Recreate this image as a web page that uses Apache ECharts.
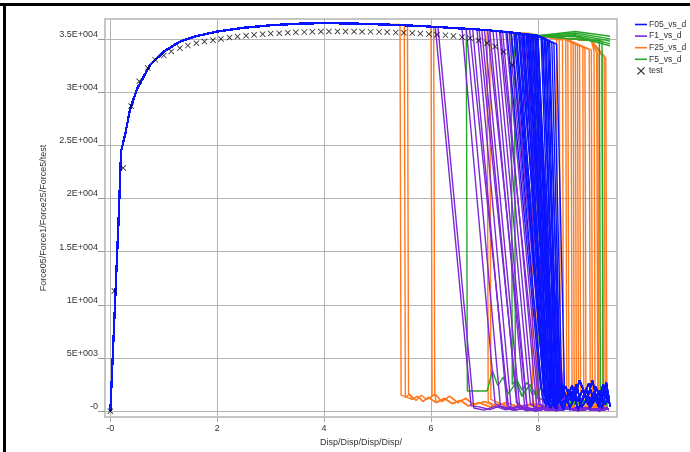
<!DOCTYPE html>
<html><head><meta charset="utf-8">
<script src="https://cdn.jsdelivr.net/npm/echarts@6/dist/echarts.min.js"></script>
<style>html,body{margin:0;padding:0;background:#fff}#c{width:690px;height:452px}</style>
</head><body><div id="c"></div>
<script>
// ---- tick labels ----
const xTicks = [0, 2, 4, 6, 8];
const xTickLabels = ['-0', '2', '4', '6', '8'];
const yTicks = [0, 5000, 10000, 15000, 20000, 25000, 30000, 35000];
const yTickLabels = ['-0', '5E+003', '1E+004', '1.5E+004', '2E+004', '2.5E+004', '3E+004', '3.5E+004'];

// ---- shared loading path (all runs) ----
const baseX = [0, 0.09, 0.155, 0.2, 0.28, 0.37, 0.5, 0.75, 1.0, 1.3, 1.6, 2.0, 2.5, 3.0, 3.5, 4.0, 4.5, 5.0, 5.5, 6.0, 6.5, 7.0, 7.5, 8.0, 8.5, 9.0, 9.35];
const baseY = [0, 10400, 18100, 24400, 26100, 28400, 30300, 32600, 33800, 34750, 35250, 35700, 36050, 36280, 36420, 36480, 36450, 36380, 36280, 36150, 36000, 35850, 35600, 35300, 35050, 34850, 34700];

// ---- F05 (blue) failures ----
const f05FailX = [7.42, 7.5, 7.55, 7.58, 7.6, 7.64, 7.66, 7.7, 7.72, 7.74, 7.78, 7.8, 7.82, 7.84, 7.85, 7.88, 7.9, 7.91, 7.94, 7.95, 7.97, 8.0, 8.02, 8.03, 8.06, 8.08, 8.09, 8.12, 8.14, 8.15, 8.18, 8.2, 8.22, 8.26, 8.3, 8.35];
const f05FailY = [35650, 35600, 35580, 35550, 35540, 35500, 35480, 35450, 35450, 35450, 35400, 35400, 35400, 35380, 35350, 35350, 35320, 35300, 35300, 35280, 35250, 35200, 35180, 35150, 35100, 35080, 35050, 35000, 34980, 34950, 34900, 34850, 34800, 34700, 34600, 34500];
const f05EndX = [8.05, 8.08, 8.12, 8.1, 8.15, 8.12, 8.18, 8.13, 8.2, 8.14, 8.16, 8.22, 8.18, 8.25, 8.2, 8.2, 8.27, 8.22, 8.24, 8.3, 8.25, 8.27, 8.32, 8.28, 8.3, 8.35, 8.32, 8.33, 8.38, 8.35, 8.37, 8.42, 8.4, 8.42, 8.45, 8.5];
const f05EndY = [2200, 1500, 2000, 2600, 800, 900, 2300, 1900, 1300, 2400, 1200, 600, 2800, 1600, 600, 1700, 2500, 2100, 1000, 1900, 2500, 1400, 700, 1800, 700, 2200, 2300, 1100, 1500, 2600, 1500, 800, 900, 2000, 1300, 1700];
const f05Tails = [
  [[8.1,1800],[8.2,600],[8.3,2200],[8.4,900],[8.5,1700],[8.6,300],[8.7,1500],[8.8,700],[8.9,2100],[9.0,500],[9.1,1400],[9.2,300],[9.3,2200]],
  [[8.15,400],[8.25,1500],[8.35,200],[8.45,2600],[8.55,800],[8.65,1900],[8.75,200],[8.85,1200],[8.95,2600],[9.05,900],[9.15,1900],[9.25,600],[9.33,1500]],
  [[8.12,2500],[8.22,1100],[8.32,300],[8.42,1400],[8.52,2300],[8.62,1000],[8.72,2500],[8.82,400],[8.92,1100],[9.02,2900],[9.12,700],[9.22,2500],[9.32,800]],
  [[8.18,900],[8.28,2800],[8.38,1300],[8.48,100],[8.58,2000],[8.68,1200],[8.78,2900],[8.88,1600],[8.98,300],[9.08,2300],[9.18,1100],[9.28,2700],[9.35,400]],
  [[8.14,1300],[8.24,300],[8.34,1900],[8.44,700],[8.54,1200],[8.64,2400],[8.74,900],[8.84,2000],[8.94,600],[9.04,1700],[9.14,400],[9.24,1800],[9.34,1000]]
];

// ---- F1 (purple) failures ----
const f1FailX = [6.08, 6.13, 6.58, 6.66, 6.72, 6.78, 6.86, 6.9, 6.95, 7.02, 7.06, 7.1, 7.16, 7.22, 7.28, 7.3, 7.34, 7.4, 7.46, 7.5, 7.52, 7.58, 7.64, 7.68, 7.72, 7.75, 7.8, 7.85, 7.9];
const f1FailY = [36100, 36100, 35950, 35950, 35920, 35900, 35880, 35870, 35850, 35820, 35810, 35800, 35780, 35750, 35720, 35710, 35700, 35650, 35620, 35600, 35600, 35560, 35500, 35480, 35450, 35430, 35400, 35380, 35350];
const f1EndX = [6.75, 6.8, 7.2, 7.3, 7.45, 7.42, 7.5, 7.62, 7.6, 7.66, 7.8, 7.75, 7.8, 7.86, 7.92, 8.02, 7.98, 8.04, 8.1, 8.2, 8.16, 8.22, 8.28, 8.36, 8.35, 8.42, 8.42, 8.48, 8.5];
const f1EndY = [500, 300, 700, 400, 350, 600, 250, 500, 800, 350, 200, 550, 200, 650, 450, 600, 300, 700, 400, 300, 250, 600, 350, 200, 500, 400, 300, 550, 450];
const f1Tails = [
  [[6.9,400],[7.1,150],[7.3,500],[7.5,200],[7.7,450],[7.9,100],[8.1,350],[8.3,150],[8.5,400],[8.7,100],[8.9,300],[9.1,120],[9.3,350]],
  [[7.0,100],[7.2,450],[7.4,120],[7.6,380],[7.8,50],[8.0,300],[8.2,80],[8.4,420],[8.6,150],[8.8,380],[9.0,90],[9.2,300],[9.33,150]],
  [[6.95,250],[7.15,50],[7.35,300],[7.55,80],[7.75,260],[7.95,40],[8.15,220],[8.35,60],[8.55,250],[8.75,50],[8.95,200],[9.15,60],[9.3,200]]
];

// ---- F25 (orange) failures ----
const f25FailX = [5.42, 5.5, 5.56, 6.0, 6.05, 7.05, 7.1, 7.88, 7.95, 8.35, 8.4, 8.46, 8.52, 8.56, 8.62, 8.66, 8.7, 8.74, 8.78, 8.84, 8.88, 8.96, 9.0, 9.05, 9.1, 9.12, 9.2, 9.24, 9.27];
const f25FailY = [36350, 36300, 36300, 36150, 36150, 35850, 35800, 35500, 35400, 35050, 35000, 34900, 34800, 34750, 34700, 34600, 34500, 34450, 34300, 34250, 34100, 34000, 33950, 33800, 33700, 33600, 33400, 33350, 33200];
const f25EndX = [5.44, 5.52, 5.58, 6.02, 6.07, 7.07, 7.12, 7.9, 7.97, 8.37, 8.42, 8.48, 8.54, 8.58, 8.64, 8.68, 8.72, 8.76, 8.8, 8.86, 8.9, 8.98, 9.02, 9.07, 9.12, 9.14, 9.22, 9.26, 9.29];
const f25EndY = [1500, 1300, 1700, 1400, 1600, 900, 1100, 600, 800, 500, 400, 700, 300, 600, 900, 400, 500, 800, 200, 600, 800, 400, 700, 600, 300, 300, 700, 400, 500];
const f25Tails = [
  [[5.65,1100],[5.75,1400],[5.85,900],[5.95,1300],[6.1,800],[6.25,1200],[6.4,700],[6.55,1000],[6.7,500],[6.9,800],[7.1,400],[7.3,700],[7.5,300],[7.8,600],[8.1,300],[8.4,500],[8.7,200],[9.0,400],[9.3,250]],
  [[5.6,1600],[5.72,1000],[5.82,1500],[5.92,1100],[6.08,1600],[6.2,900],[6.35,1400],[6.5,800],[6.65,1200],[6.8,600],[7.0,900],[7.2,500],[7.4,800],[7.65,400],[7.9,700],[8.2,350],[8.5,600],[8.8,300],[9.1,500],[9.3,200]]
];

// ---- F5 (green) failures and run-outs ----
const f5FailX = [6.66, 7.5, 7.56, 7.98, 9.15, 9.2];
const f5FailY = [35950, 35650, 35600, 35400, 34900, 34800];
const f5EndX = [6.68, 7.52, 7.58, 8.0, 9.17, 9.22];
const f5EndY = [1900, 2500, 1800, 1500, 1000, 600];
const f5Tails = [
  [[7.05,1900],[7.15,3800],[7.25,2400],[7.35,3200],[7.45,1600],[7.6,2800],[7.7,1400],[7.85,2500],[8.0,1200],[8.3,900],[8.7,700],[9.0,900],[9.3,600]],
  [[7.6,3000],[7.7,2000],[7.8,2700],[7.9,1500],[8.05,2200],[8.2,1000],[8.5,800],[8.9,1000],[9.3,700]]
];
const f5RunMidY = [35700, 35550, 35400, 35300, 35200];
const f5RunEndY = [35250, 35000, 34800, 34550, 34350];

// ---- test points ----
const testX = [0, 0.075, 0.24, 0.39, 0.54, 0.70, 0.84, 1.0, 1.14, 1.30, 1.45, 1.61, 1.76, 1.92, 2.07, 2.23, 2.38, 2.54, 2.69, 2.85, 3.0, 3.16, 3.32, 3.47, 3.63, 3.78, 3.94, 4.09, 4.25, 4.40, 4.56, 4.71, 4.87, 5.03, 5.18, 5.34, 5.49, 5.65, 5.80, 5.96, 6.11, 6.27, 6.42, 6.58, 6.73, 6.89, 7.05, 7.20, 7.36, 7.52];
const testY = [0, 11300, 22870, 28680, 31010, 32260, 33040, 33440, 33820, 34130, 34380, 34600, 34750, 34880, 35000, 35120, 35220, 35300, 35380, 35440, 35500, 35540, 35580, 35620, 35650, 35680, 35690, 35700, 35700, 35700, 35690, 35680, 35670, 35650, 35630, 35600, 35580, 35550, 35500, 35450, 35400, 35340, 35260, 35170, 35060, 34860, 34600, 34280, 33800, 32550];

const COLORS = { F05: '#0a14ff', F1: '#7b28d8', F25: '#ff7a20', F5: '#26a626' };

function runCurve(failX, failY, endX, endY, tail) {
  const pts = [];
  for (let i = 0; i < baseX.length; i++) if (baseX[i] < failX) pts.push([baseX[i], baseY[i]]);
  pts.push([failX, failY]);
  if (endX != null) {
    pts.push([endX, endY]);
    for (const p of tail) if (p[0] > endX) pts.push(p);
  }
  return pts;
}

const series = [];
function addFamily(name, fx, fy, ex, ey, tails, z) {
  for (let i = 0; i < fx.length; i++) {
    series.push({
      name: name, type: 'line', symbol: 'none', z: z, silent: true, animation: false,
      lineStyle: { color: COLORS[name.split('_')[0]], width: 1.4 },
      itemStyle: { color: COLORS[name.split('_')[0]] },
      data: runCurve(fx[i], fy[i], ex[i], ey[i], tails[i % tails.length])
    });
  }
}
addFamily('F25_vs_d', f25FailX, f25FailY, f25EndX, f25EndY, f25Tails, 2);
addFamily('F5_vs_d', f5FailX, f5FailY, f5EndX, f5EndY, f5Tails, 3);
for (let i = 0; i < f5RunEndY.length; i++) {
  const pts = [];
  for (let k = 0; k < baseX.length; k++) if (baseX[k] <= 8.0) pts.push([baseX[k], baseY[k]]);
  pts.push([8.7, f5RunMidY[i]]);
  pts.push([9.35, f5RunEndY[i]]);
  series.push({ name: 'F5_vs_d', type: 'line', symbol: 'none', z: 3, silent: true, animation: false,
    lineStyle: { color: COLORS.F5, width: 1.4 }, itemStyle: { color: COLORS.F5 }, data: pts });
}
addFamily('F1_vs_d', f1FailX, f1FailY, f1EndX, f1EndY, f1Tails, 4);
addFamily('F05_vs_d', f05FailX, f05FailY, f05EndX, f05EndY, f05Tails, 5);

const crossPath = 'path://M0,1 L1,0 L5,4 L9,0 L10,1 L6,5 L10,9 L9,10 L5,6 L1,10 L0,9 L4,5 Z';
series.push({
  name: 'test', type: 'scatter', symbol: crossPath, symbolSize: 6, z: 10, animation: false,
  itemStyle: { color: '#000' },
  data: testX.map((x, i) => [x, testY[i]])
});

const barIcon = 'path://M0,0 L12,0 L12,1.6 L0,1.6 Z';
const chart = echarts.init(document.getElementById('c'), null, { renderer: 'canvas' });
chart.setOption({
  animation: false,
  backgroundColor: '#fff',
  textStyle: { fontFamily: 'Liberation Sans, Arial, sans-serif' },
  grid: { left: 105, right: 73, top: 19, bottom: 32, show: true, borderColor: '#c6c6c6', borderWidth: 2, backgroundColor: 'transparent' },
  legend: {
    left: 630, top: 15, orient: 'vertical', itemWidth: 12, itemHeight: 8, itemGap: 2.6,
    symbolKeepAspect: true,
    textStyle: { fontSize: 8.5, color: '#333', padding: [0, 0, 0, -3] },
    data: [
      { name: 'F05_vs_d', icon: barIcon },
      { name: 'F1_vs_d', icon: barIcon },
      { name: 'F25_vs_d', icon: barIcon },
      { name: 'F5_vs_d', icon: barIcon },
      { name: 'test', icon: crossPath }
    ]
  },
  xAxis: {
    type: 'value', min: -0.1, max: 9.48,
    axisLine: { show: true, onZero: false, lineStyle: { color: '#c6c6c6', width: 2 } },
    axisTick: { show: true, customValues: xTicks, length: 5, lineStyle: { color: '#aaa' } },
    axisLabel: { customValues: xTicks, formatter: v => xTickLabels[xTicks.indexOf(v)], fontSize: 9, color: '#333', margin: 7 },
    splitLine: { show: true, lineStyle: { color: '#b4b4b4', width: 1 } },
    name: 'Disp/Disp/Disp/Disp/', nameLocation: 'middle', nameGap: 18,
    nameTextStyle: { fontSize: 9, color: '#333' }
  },
  yAxis: {
    type: 'value', min: -560, max: 36870,
    axisLine: { show: true, onZero: false, lineStyle: { color: '#c6c6c6', width: 2 } },
    axisTick: { show: true, customValues: yTicks, length: 7, lineStyle: { color: '#999' } },
    axisLabel: { customValues: yTicks, formatter: v => yTickLabels[yTicks.indexOf(v)], fontSize: 9, color: '#333', margin: 7, verticalAlign: 'bottom' },
    splitLine: { show: true, lineStyle: { color: '#b4b4b4', width: 1 } },
    name: 'Force05/Force1/Force25/Force5/test', nameLocation: 'middle', nameGap: 51,
    nameTextStyle: { fontSize: 9, color: '#333' }
  },
  graphic: [
    { type: 'rect', shape: { x: 0, y: 3, width: 690, height: 3 }, style: { fill: '#000' }, z: 100 },
    { type: 'rect', shape: { x: 3, y: 3, width: 3, height: 449 }, style: { fill: '#000' }, z: 100 }
  ],
  series: series
});
</script>
</body></html>
